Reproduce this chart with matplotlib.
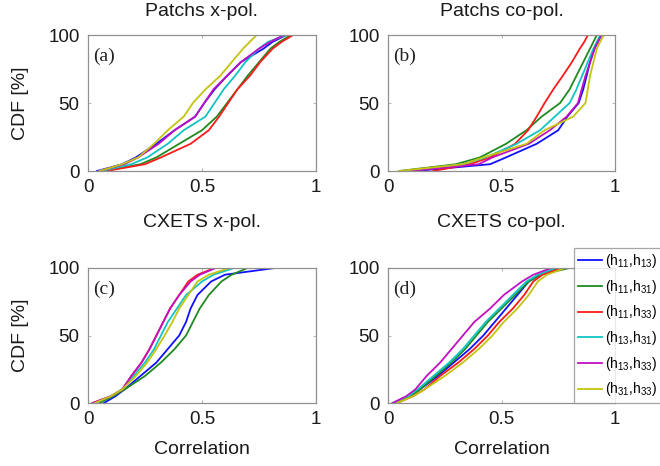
import matplotlib
matplotlib.use("Agg")
import matplotlib.pyplot as plt

plt.rcParams['font.family'] = ['Liberation Sans', 'DejaVu Sans']
plt.rcParams['mathtext.fontset'] = 'custom'
plt.rcParams['mathtext.rm'] = 'Liberation Sans'
plt.rcParams['mathtext.it'] = 'Liberation Sans'

# CDF levels [%]
cdf_levels = [0, 5, 10, 20, 30, 40, 50, 60, 70, 80, 90, 95, 100]

series_labels = [r'(h$_{\mathregular{11}}$,h$_{\mathregular{13}}$)',
                 r'(h$_{\mathregular{11}}$,h$_{\mathregular{31}}$)',
                 r'(h$_{\mathregular{11}}$,h$_{\mathregular{33}}$)',
                 r'(h$_{\mathregular{13}}$,h$_{\mathregular{31}}$)',
                 r'(h$_{\mathregular{13}}$,h$_{\mathregular{33}}$)',
                 r'(h$_{\mathregular{31}}$,h$_{\mathregular{33}}$)']
series_colors = ['#1010ff', '#1f8a1f', '#ff1a1a', '#10c4c4', '#c010c0', '#c4c410']

panel_titles = ['Patchs x-pol.', 'Patchs co-pol.', 'CXETS x-pol.', 'CXETS co-pol.']
panel_tags = ['(a)', '(b)', '(c)', '(d)']

# Correlation value at each CDF level; order: h11h13, h11h31, h11h33, h13h31, h13h33, h31h33
patch_x = [
    [0.04, 0.15, 0.21, 0.30, 0.38, 0.47, 0.51, 0.555, 0.61, 0.67, 0.77, 0.81, 0.87],
    [0.07, 0.23, 0.30, 0.40, 0.50, 0.565, 0.61, 0.655, 0.70, 0.75, 0.80, 0.84, 0.89],
    [0.08, 0.25, 0.32, 0.45, 0.53, 0.575, 0.615, 0.655, 0.71, 0.755, 0.81, 0.85, 0.90],
    [0.06, 0.19, 0.26, 0.35, 0.42, 0.515, 0.555, 0.595, 0.645, 0.69, 0.75, 0.79, 0.87],
    [0.05, 0.16, 0.22, 0.31, 0.38, 0.47, 0.51, 0.55, 0.61, 0.67, 0.75, 0.80, 0.86],
    [0.05, 0.15, 0.22, 0.29, 0.35, 0.42, 0.46, 0.515, 0.58, 0.63, 0.68, 0.71, 0.74],
]
patch_co = [
    [0.12, 0.45, 0.52, 0.655, 0.75, 0.79, 0.84, 0.86, 0.875, 0.89, 0.91, 0.925, 0.94],
    [0.05, 0.30, 0.405, 0.52, 0.61, 0.677, 0.758, 0.80, 0.83, 0.86, 0.89, 0.905, 0.92],
    [0.20, 0.36, 0.45, 0.56, 0.617, 0.655, 0.69, 0.728, 0.77, 0.81, 0.845, 0.865, 0.88],
    [0.10, 0.33, 0.43, 0.567, 0.67, 0.735, 0.80, 0.83, 0.855, 0.88, 0.905, 0.92, 0.935],
    [0.10, 0.40, 0.46, 0.62, 0.713, 0.787, 0.837, 0.853, 0.87, 0.89, 0.91, 0.925, 0.94],
    [0.05, 0.33, 0.42, 0.61, 0.69, 0.816, 0.87, 0.88, 0.89, 0.905, 0.92, 0.935, 0.95],
]
cxets_x = [
    [0.07, 0.12, 0.16, 0.23, 0.30, 0.35, 0.40, 0.43, 0.45, 0.48, 0.54, 0.60, 0.82],
    [0.05, 0.11, 0.16, 0.25, 0.32, 0.38, 0.43, 0.46, 0.49, 0.53, 0.585, 0.63, 0.70],
    [0.02, 0.10, 0.15, 0.19, 0.235, 0.27, 0.30, 0.33, 0.36, 0.40, 0.44, 0.48, 0.555],
    [0.03, 0.10, 0.15, 0.20, 0.25, 0.29, 0.32, 0.35, 0.39, 0.43, 0.50, 0.55, 0.64],
    [0.02, 0.10, 0.15, 0.19, 0.235, 0.27, 0.30, 0.33, 0.36, 0.40, 0.45, 0.49, 0.56],
    [0.03, 0.10, 0.15, 0.21, 0.26, 0.30, 0.336, 0.37, 0.40, 0.44, 0.48, 0.53, 0.62],
]
cxets_co = [
    [0.03, 0.10, 0.14, 0.22, 0.29, 0.36, 0.42, 0.47, 0.52, 0.57, 0.62, 0.67, 0.75],
    [0.03, 0.10, 0.14, 0.21, 0.28, 0.34, 0.39, 0.44, 0.50, 0.56, 0.62, 0.67, 0.80],
    [0.04, 0.11, 0.16, 0.23, 0.31, 0.38, 0.44, 0.49, 0.55, 0.60, 0.64, 0.68, 0.76],
    [0.02, 0.09, 0.13, 0.20, 0.27, 0.33, 0.38, 0.43, 0.49, 0.55, 0.61, 0.66, 0.74],
    [0.02, 0.08, 0.12, 0.17, 0.23, 0.28, 0.33, 0.38, 0.45, 0.51, 0.59, 0.64, 0.72],
    [0.04, 0.11, 0.16, 0.25, 0.33, 0.40, 0.46, 0.51, 0.57, 0.62, 0.66, 0.70, 0.78],
]
panels = [patch_x, patch_co, cxets_x, cxets_co]

W, H = 660, 466
fig = plt.figure(figsize=(W / 100, H / 100), dpi=100)

# axes boxes in pixels: left, top, right, bottom
boxes = [(88, 35, 316, 171), (388, 35, 615, 171),
         (88, 268, 316, 403), (388, 268, 615, 403)]
title_y = [12, 12, 222, 222]

axes = []
for i, (l, t, r, b) in enumerate(boxes):
    ax = fig.add_axes([l / W, 1 - b / H, (r - l) / W, (b - t) / H])
    axes.append(ax)
    for k, xs in enumerate(panels[i]):
        ax.plot(xs, cdf_levels, color=series_colors[k], lw=1.3,
                label=series_labels[k])
    ax.set_xlim(0, 1)
    ax.set_ylim(0, 100)
    ax.set_xticks([0, 0.5, 1])
    ax.set_xticklabels(['0', '0.5', '1'])
    ax.set_yticks([0, 50, 100])
    ax.tick_params(direction='in', length=2.5, width=0.6, color='#aaaaaa',
                   top=True, right=True, labelsize=13.5, labelcolor='#1a1a1a',
                   pad=6)
    for s in ax.spines.values():
        s.set_color('#909090')
        s.set_linewidth(0.9)
    ax.text(0.022, 0.84, panel_tags[i], transform=ax.transAxes,
            fontsize=14, family=['Liberation Serif'], va='center', ha='left',
            color='#222222')
    fig.text((l + r) / 2 / W, 1 - title_y[i] / H, panel_titles[i],
             ha='center', va='center', fontsize=14, color='#1a1a1a')
    if i in (0, 2):
        ax.set_ylabel('CDF [%]', fontsize=14, color='#1a1a1a')
        ax.yaxis.set_label_coords((29 - l) / (r - l), 0.5)
    if i in (2, 3):
        ax.set_xlabel('Correlation', fontsize=14, color='#1a1a1a')
        ax.xaxis.set_label_coords(0.5, (b - 441) / (b - t))

handles, labels = axes[0].get_legend_handles_labels()
leg = fig.legend(handles, labels, loc='upper left',
                 bbox_to_anchor=(574 / W, 1 - 248 / H), fontsize=10,
                 frameon=True, fancybox=False, handlelength=1.7,
                 handletextpad=0.2, borderpad=0.3, labelspacing=0.55,
                 borderaxespad=0)
leg.get_frame().set_edgecolor('#909090')
leg.get_frame().set_linewidth(0.9)

fig.savefig('out.png', dpi=100)
